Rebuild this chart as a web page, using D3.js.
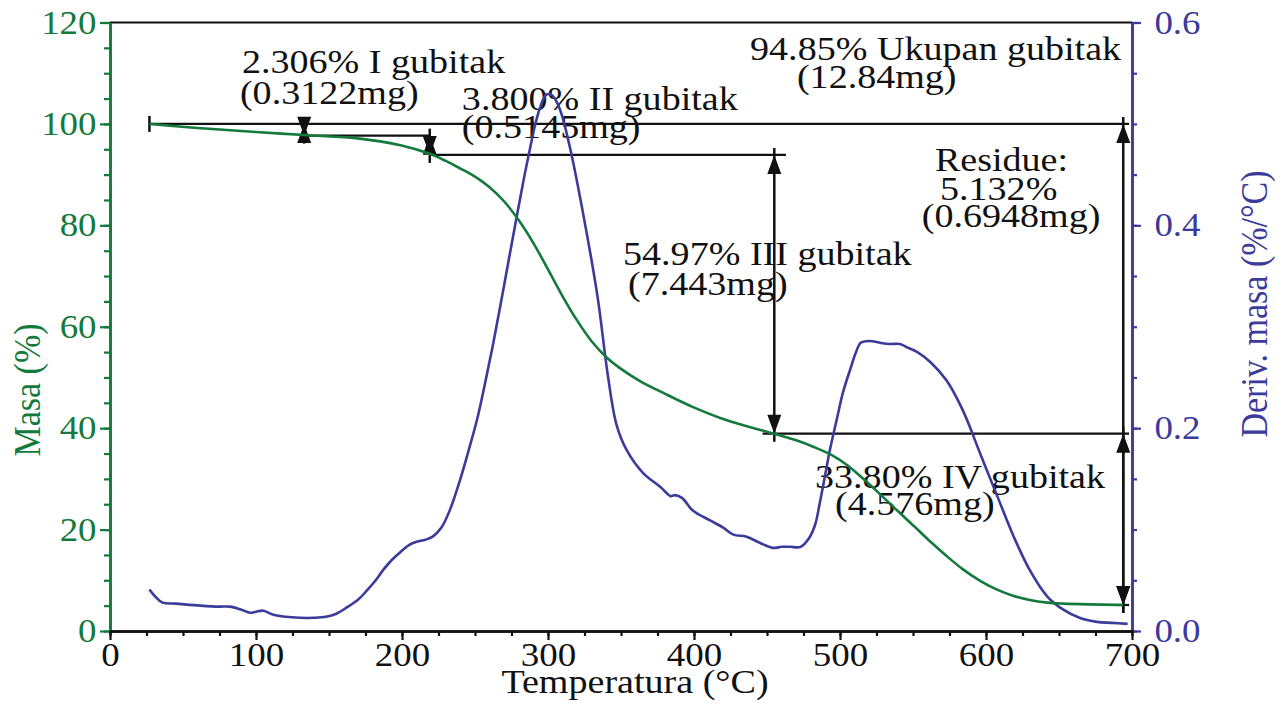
<!DOCTYPE html>
<html>
<head>
<meta charset="utf-8">
<script src="https://cdn.jsdelivr.net/npm/d3@7"></script>
<style>
  body { margin: 0; background: #fff; }
  text { font-family: "Liberation Serif", "Times New Roman", serif; }
</style>
</head>
<body>
<div id="chart"></div>
<script>
// mass curve (TGA), % vs temperature
const massTemp = [27, 60, 100, 133, 171, 199, 219, 230, 240, 250, 260, 270, 280, 290, 300, 310, 320, 330, 340, 350, 363, 380, 399, 422, 440, 455, 470, 482, 495, 505, 514, 527, 539, 551, 562, 573, 584, 596, 608, 619, 630, 642, 653, 670, 694]
const massValues = [100, 99.2, 98.4, 97.8, 97.1, 95.8, 94.1, 92.7, 91.2, 89.6, 87.5, 84.7, 81.0, 76.5, 71.3, 66.0, 61.2, 57.1, 54.0, 51.7, 49.3, 46.8, 44.2, 41.6, 40.1, 38.9, 37.6, 36.3, 34.6, 32.7, 30.5, 27.1, 23.8, 20.6, 17.6, 14.8, 12.2, 9.9, 8.1, 6.9, 6.1, 5.6, 5.4, 5.25, 5.13]

// derivative curve (DTG), %/°C vs temperature
const derivTemp = [27, 31, 36, 45, 62, 75, 82, 90, 96, 100, 105, 112, 120, 130, 140, 148, 155, 162, 170, 176, 182, 187, 193, 199, 205, 210, 216, 221, 227, 233, 240, 247, 252, 257, 262, 267, 273, 279, 284, 288, 291, 295, 299, 303, 308, 315, 324, 334, 341, 347, 354, 365, 377, 384, 387, 392, 399, 411, 420, 427, 436, 445, 454, 460, 466, 473, 479, 483, 486, 490, 493, 498, 502, 507, 511, 514, 520, 528, 534, 541, 547, 553, 562, 573, 584, 596, 608, 619, 630, 642, 653, 664, 676, 686, 697]
const derivValues = [0.041, 0.034, 0.028, 0.027, 0.025, 0.024, 0.024, 0.021, 0.018, 0.019, 0.020, 0.016, 0.014, 0.013, 0.013, 0.014, 0.017, 0.023, 0.031, 0.040, 0.050, 0.060, 0.070, 0.078, 0.085, 0.088, 0.090, 0.093, 0.102, 0.120, 0.150, 0.185, 0.212, 0.245, 0.280, 0.318, 0.365, 0.412, 0.450, 0.478, 0.498, 0.518, 0.529, 0.528, 0.515, 0.477, 0.412, 0.329, 0.252, 0.203, 0.178, 0.156, 0.142, 0.133, 0.134, 0.131, 0.119, 0.109, 0.102, 0.095, 0.093, 0.087, 0.082, 0.083, 0.083, 0.083, 0.092, 0.105, 0.125, 0.155, 0.178, 0.210, 0.235, 0.258, 0.275, 0.284, 0.286, 0.284, 0.283, 0.283, 0.279, 0.275, 0.265, 0.247, 0.218, 0.175, 0.132, 0.093, 0.060, 0.034, 0.021, 0.013, 0.009, 0.008, 0.007]

// step analysis: mass levels and where they are marked
const stepLevels = [100, 97.69, 93.89, 38.92, 5.13]
const stepTemps = [133, 219, 455, 694]
// horizontal level lines [level, from T, to T]
const levelLines = [[100, 27, 698], [97.69, 133, 219], [93.89, 219, 463], [38.92, 447, 698], [5.13, 688, 698]]
// vertical arrows [T, upper level, lower level]
const stepArrows = [[133, 100, 97.69], [219, 97.69, 93.89], [455, 93.89, 38.92], [694, 100, 5.13], [694, 38.92, 5.13]]

// annotation text, one entry per line, with anchor [T, mass]
const annotText = ["2.306% I gubitak", "(0.3122mg)", "3.800% II gubitak", "(0.5145mg)",
    "94.85% Ukupan gubitak", "(12.84mg)", "Residue:", "5.132%", "(0.6948mg)",
    "54.97% III gubitak", "(7.443mg)", "33.80% IV gubitak", "(4.576mg)"]
const annotAnchor = [[90.4, 110.0], [89, 104.0], [241, 102.7], [241, 97.3],
    [438.4, 112.7], [470.5, 107.0], [565, 90.8], [568.5, 84.9], [556, 79.6],
    [351.4, 72.1], [354.8, 66.2], [482.9, 28.2], [496.6, 22.9]]

const xTicks = d3.range(0, 701, 100)
const yTicks = d3.range(0, 121, 20)
const y2Ticks = [0, 0.2, 0.4, 0.6]

const W = 1281, H = 709
const green = "#137a3c", blue = "#3b3b9c", ink = "#111"
const sx = 1.12  // the source picture is stretched horizontally
const fs = 34

const svg = d3.select("#chart").append("svg")
    .attr("width", W)
    .attr("height", H)

const x = d3.scaleLinear().domain([0, 700]).range([110, 1132])
const y = d3.scaleLinear().domain([0, 120]).range([631, 22.5])
const y2 = d3.scaleLinear().domain([0, 0.6]).range([631, 22.5])

// annotation texts
annotText.forEach((t, i) => {
    svg.append("text")
        .attr("transform", `translate(${x(annotAnchor[i][0])},${y(annotAnchor[i][1])}) scale(${sx},1)`)
        .attr("font-size", fs)
        .attr("fill", ink)
        .text(t)
})

// top frame line
svg.append("line")
    .attr("x1", x(0)).attr("x2", x(700))
    .attr("y1", y(120)).attr("y2", y(120))
    .attr("stroke", ink).attr("stroke-width", 2.2)

// level lines
svg.append("g").selectAll("line")
    .data(levelLines)
    .join("line")
    .attr("x1", d => x(d[1])).attr("x2", d => x(d[2]))
    .attr("y1", d => y(d[0])).attr("y2", d => y(d[0]))
    .attr("stroke", ink).attr("stroke-width", 2.2)

// start tick of the 100 % line
svg.append("line")
    .attr("x1", x(levelLines[0][1])).attr("x2", x(levelLines[0][1]))
    .attr("y1", y(100) - 8).attr("y2", y(100) + 8)
    .attr("stroke", ink).attr("stroke-width", 2.5)

// vertical arrows with heads pointing outwards
const arrows = svg.append("g")
stepArrows.forEach(a => {
    const px = x(a[0]), top = y(a[1]), bot = y(a[2])
    arrows.append("line")
        .attr("x1", px).attr("x2", px)
        .attr("y1", top - 7).attr("y2", bot + 8)
        .attr("stroke", ink).attr("stroke-width", 2.5)
    arrows.append("path")
        .attr("d", `M${px},${top} L${px - 7},${top + 19} L${px + 7},${top + 19} Z`)
        .attr("fill", ink)
    arrows.append("path")
        .attr("d", `M${px},${bot} L${px - 7},${bot - 19} L${px + 7},${bot - 19} Z`)
        .attr("fill", ink)
})

// curves
const massLine = d3.line()
    .x((d, i) => x(massTemp[i]))
    .y(d => y(d))
    .curve(d3.curveCatmullRom.alpha(0.5))

const derivLine = d3.line()
    .x((d, i) => x(derivTemp[i]))
    .y(d => y2(d))
    .curve(d3.curveCatmullRom.alpha(0.5))

svg.append("path")
    .attr("d", derivLine(derivValues))
    .attr("fill", "none")
    .attr("stroke", blue)
    .attr("stroke-width", 2.6)
    .attr("stroke-linejoin", "round")

svg.append("path")
    .attr("d", massLine(massValues))
    .attr("fill", "none")
    .attr("stroke", green)
    .attr("stroke-width", 2.6)
    .attr("stroke-linejoin", "round")

// axes
function styleAxis(g, color) {
    g.select(".domain").attr("stroke", color).attr("stroke-width", 2.6)
    g.selectAll(".tick line").attr("stroke", color).attr("stroke-width", 2.2)
    g.selectAll(".tick text")
        .attr("fill", color)
        .attr("font-size", 33)
        .attr("font-family", "Liberation Serif")
}

// left minor + major
const gLeftMinor = svg.append("g")
    .attr("transform", `translate(${x(0)},0)`)
    .call(d3.axisLeft(y).tickValues(d3.range(0, 121, 5)).tickSize(6).tickSizeOuter(0).tickFormat(""))
styleAxis(gLeftMinor, green)
const gLeft = svg.append("g")
    .attr("transform", `translate(${x(0)},0)`)
    .call(d3.axisLeft(y).tickValues(yTicks).tickSize(10).tickSizeOuter(0).tickPadding(2).tickFormat(d3.format("d")))
styleAxis(gLeft, green)
gLeft.selectAll(".tick text").attr("transform", `scale(${sx},1)`)

// right minor + major
const gRightMinor = svg.append("g")
    .attr("transform", `translate(${x(700)},0)`)
    .call(d3.axisRight(y2).tickValues(d3.range(0, 0.61, 0.05)).tickSize(5).tickSizeOuter(0).tickFormat(""))
styleAxis(gRightMinor, blue)
const gRight = svg.append("g")
    .attr("transform", `translate(${x(700)},0)`)
    .call(d3.axisRight(y2).tickValues(y2Ticks).tickSize(9).tickSizeOuter(0).tickPadding(11).tickFormat(d3.format(".1f")))
styleAxis(gRight, blue)
gRight.selectAll(".tick text").attr("transform", `scale(${sx},1)`)

// bottom minor + major
const gBottomMinor = svg.append("g")
    .attr("transform", `translate(0,${y(0)})`)
    .call(d3.axisBottom(x).tickValues(d3.range(0, 701, 25)).tickSize(5).tickSizeOuter(0).tickFormat(""))
styleAxis(gBottomMinor, ink)
const gBottom = svg.append("g")
    .attr("transform", `translate(0,${y(0)})`)
    .call(d3.axisBottom(x).tickValues(xTicks).tickSize(9).tickSizeOuter(0).tickPadding(3).tickFormat(d3.format("d")))
styleAxis(gBottom, ink)
gBottom.selectAll(".tick text").attr("transform", `scale(${sx},1)`)

// axis titles
svg.append("text")
    .attr("transform", `translate(635,693) scale(${sx},1)`)
    .attr("text-anchor", "middle")
    .attr("font-size", fs)
    .attr("fill", ink)
    .text("Temperatura (°C)")

svg.append("text")
    .attr("transform", `translate(40,390) scale(${sx},1) rotate(-90)`)
    .attr("text-anchor", "middle")
    .attr("font-size", fs)
    .attr("fill", green)
    .text("Masa (%)")

svg.append("text")
    .attr("transform", `translate(1267,304) scale(${sx},1) rotate(-90)`)
    .attr("text-anchor", "middle")
    .attr("font-size", fs)
    .attr("fill", blue)
    .text("Deriv. masa (%/°C)")
</script>
</body>
</html>
